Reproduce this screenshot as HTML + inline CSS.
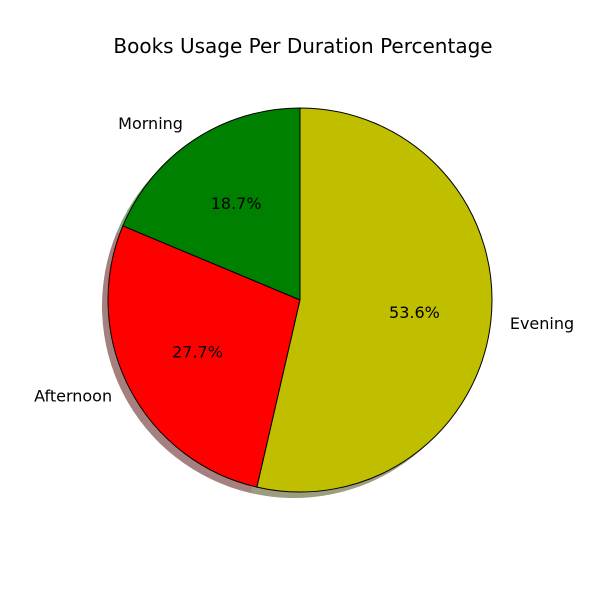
<!DOCTYPE html>
<html><head><meta charset="utf-8"><style>body{margin:0;background:#fff}svg{display:block}text{font-family:"DejaVu Sans","Liberation Sans",sans-serif}</style></head>
<body>
<svg id="chart" width="600" height="600" viewBox="0 0 600 600">
<rect width="600" height="600" fill="#fff"/>
<text x="303" y="53" text-anchor="middle" font-size="20" fill="#000">Books Usage Per Duration Percentage</text>
<g id="shadows"></g>
<g id="wedges"></g>
<g id="labels"></g>
</svg>
<script>
const categories = ["Morning", "Afternoon", "Evening"];
const values = [18.7, 27.7, 53.6];
const colors = ["#008000", "#ff0000", "#bfbf00"];
const shadowColors = ["#004d00", "#4d0000", "#3a3a00"];
const cx = 300, cy = 300, r = 192, sdx = -6, sdy = 6;
const ns = "http://www.w3.org/2000/svg";
const total = values.reduce((a, b) => a + b, 0);
function pt(a, rr, ox, oy) { const t = a * Math.PI / 180; return [ox + rr * Math.cos(t), oy - rr * Math.sin(t)]; }
function arcPath(a0, a1, ox, oy) {
  const p0 = pt(a0, r, ox, oy), p1 = pt(a1, r, ox, oy);
  const large = (a1 - a0) > 180 ? 1 : 0;
  return `M${ox},${oy} L${p0[0]},${p0[1]} A${r},${r} 0 ${large} 0 ${p1[0]},${p1[1]} Z`;
}
let start = 90;
values.forEach((v, i) => {
  const span = v / total * 360, end = start + span, mid = start + span / 2;
  const s = document.createElementNS(ns, "path");
  s.setAttribute("d", arcPath(start, end, cx + sdx, cy + sdy));
  s.setAttribute("fill", shadowColors[i]);
  s.setAttribute("opacity", "0.5");
  
  
  document.getElementById("shadows").appendChild(s);
  const w = document.createElementNS(ns, "path");
  w.setAttribute("d", arcPath(start, end, cx, cy));
  w.setAttribute("fill", colors[i]);
  w.setAttribute("stroke", "#000");
  w.setAttribute("stroke-width", "1");
  w.setAttribute("stroke-linejoin", "round");
  
  
  document.getElementById("wedges").appendChild(w);
  const lp = pt(mid, r * 1.1, cx, cy);
  const c = Math.cos(mid * Math.PI / 180);
  const lt = document.createElementNS(ns, "text");
  lt.setAttribute("x", lp[0]); lt.setAttribute("y", lp[1] + 5);
  lt.setAttribute("text-anchor", c < 0 ? "end" : "start");
  lt.setAttribute("font-size", "16");
  lt.textContent = categories[i];
  
  
  document.getElementById("labels").appendChild(lt);
  const pp = pt(mid, r * 0.6, cx, cy);
  const pt2 = document.createElementNS(ns, "text");
  pt2.setAttribute("x", pp[0]); pt2.setAttribute("y", pp[1] + 5);
  pt2.setAttribute("text-anchor", "middle");
  pt2.setAttribute("font-size", "16");
  pt2.textContent = v.toFixed(1) + "%";
  
  
  document.getElementById("labels").appendChild(pt2);
  start = end;
});
</script>
</body></html>
